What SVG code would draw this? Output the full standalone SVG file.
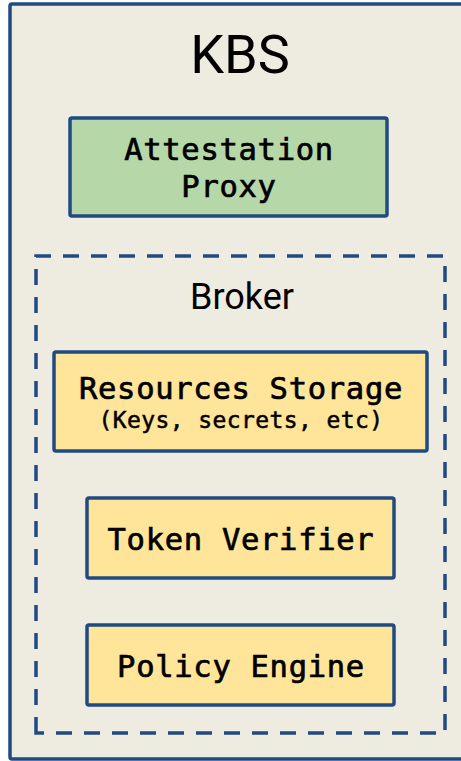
<svg xmlns="http://www.w3.org/2000/svg" width="461" height="761" viewBox="0 0 461 761">
  <style>
    .frame { fill: #eeebe1; stroke: #1f4b82; stroke-width: 3.5; }
    .group { fill: none; stroke: #1f4b82; stroke-width: 3.5; stroke-dasharray: 16 12; }
    .box { stroke: #1f4b82; stroke-width: 3.5; }
    .green { fill: #b6d7a8; }
    .yellow { fill: #ffe599; }
    .title { font-family: Roboto, "Liberation Sans", sans-serif; fill: #000; text-anchor: middle; }
    .mono { font-family: "DejaVu Sans Mono", "Liberation Mono", monospace; fill: #000; stroke: #000; stroke-width: 0.7px; text-anchor: middle; font-size: 30.5px; letter-spacing: 0.7px; }
    .sub { font-size: 23px; letter-spacing: 0.4px; stroke-width: 0.5px; }
  </style>
  <rect width="461" height="761" fill="#ffffff"/>

  <g id="kbs">
    <rect class="frame" x="10" y="4" width="470" height="755" rx="2"/>
    <text class="title" x="240" y="73" font-size="54">KBS</text>
  </g>

  <g id="attestation-proxy">
    <rect class="box green" x="70" y="118" width="317" height="98" rx="2"/>
    <text class="mono" x="229" y="160">Attestation</text>
    <text class="mono" x="229" y="197">Proxy</text>
  </g>

  <g id="broker">
    <path class="group" d="M 36 733 L 36 256 L 445 256 L 445 733 Z"/>
    <text class="title" x="242" y="309" font-size="36">Broker</text>
  </g>

  <g id="resources-storage">
    <rect class="box yellow" x="54" y="352" width="373" height="99" rx="2"/>
    <text class="mono" x="241" y="399">Resources Storage</text>
    <text class="mono sub" x="241" y="428">(Keys, secrets, etc)</text>
  </g>

  <g id="token-verifier">
    <rect class="box yellow" x="87" y="498" width="307" height="80" rx="2"/>
    <text class="mono" x="241" y="550">Token Verifier</text>
  </g>

  <g id="policy-engine">
    <rect class="box yellow" x="87" y="625" width="307" height="80" rx="2"/>
    <text class="mono" x="241" y="677">Policy Engine</text>
  </g>

  <g id="connectors"></g>
</svg>
